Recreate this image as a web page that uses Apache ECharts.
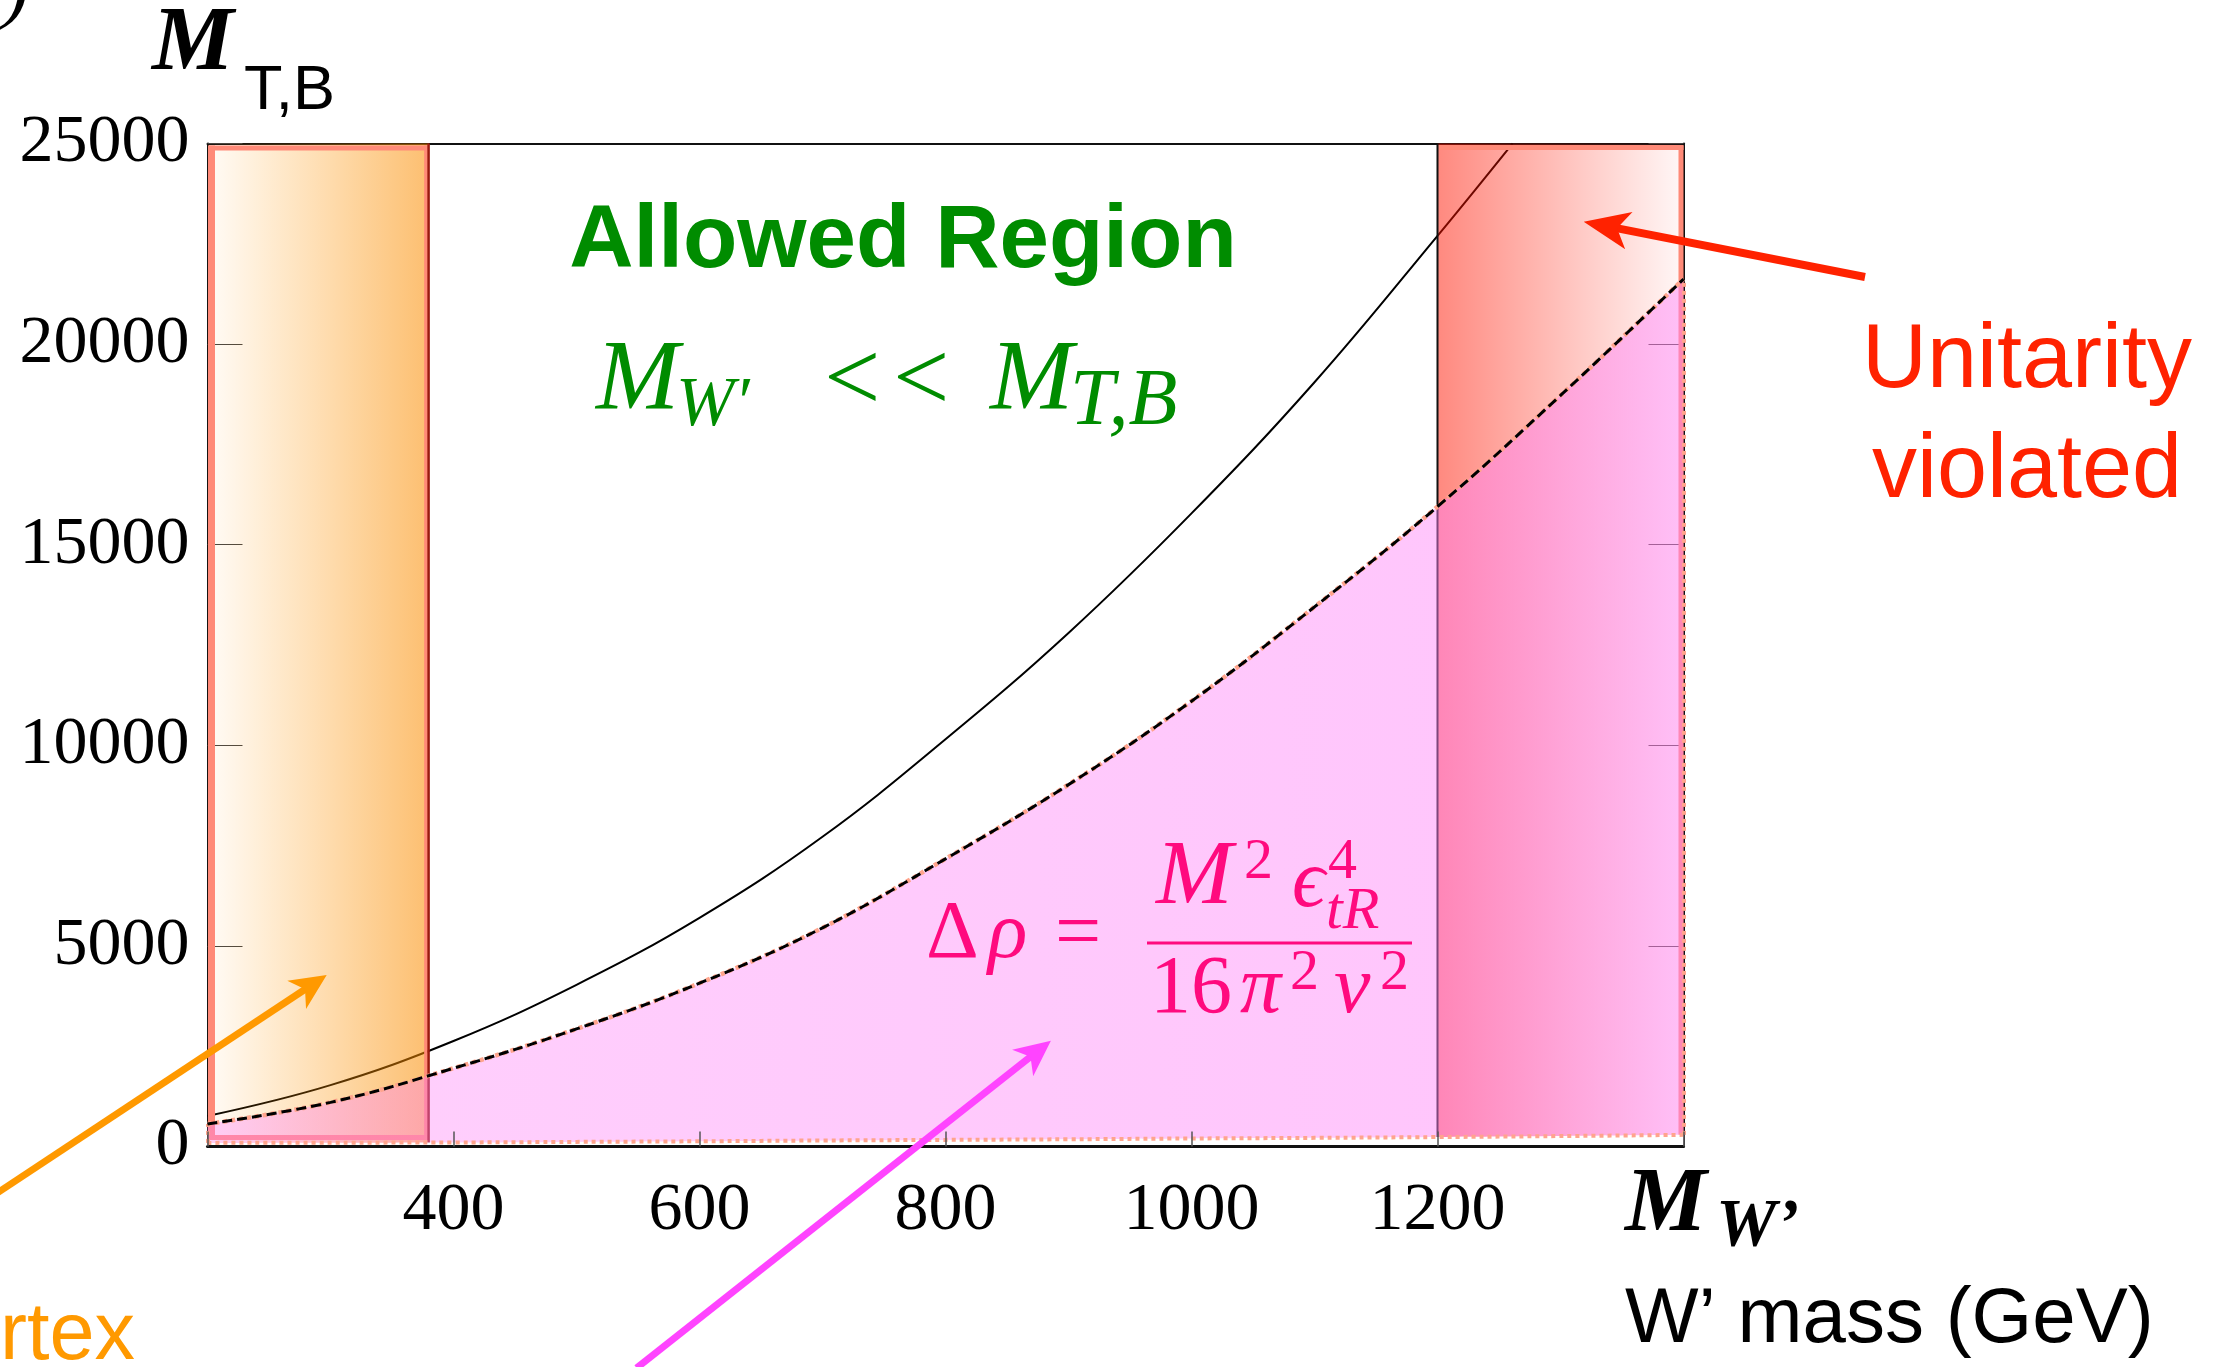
<!DOCTYPE html>
<html>
<head>
<meta charset="utf-8">
<script src="https://cdn.jsdelivr.net/npm/echarts@6/dist/echarts.min.js"></script>
<style>
html,body{margin:0;padding:0;background:#fff;}
#chart{width:2223px;height:1367px;}
</style>
</head>
<body>
<div id="chart"></div>
<script>
// ---------- data ----------
const xMin = 200, xMax = 1400, xStep = 200;
const yMin = 0, yMax = 25000, yStep = 5000;
const xTickLabels = [400, 600, 800, 1000, 1200];

// solid black curve
const solidX = [200, 300, 400, 500, 600, 700, 800, 900, 1000, 1100, 1200, 1261];
const solidY = [760, 1530, 2630, 4030, 5700, 7720, 10150, 12800, 15780, 19050, 22700, 25000];

// dashed curve (upper edge of the Delta-rho region) and lower edge of that region
const curveX  = [200, 300, 400, 500, 600, 700, 800, 900, 1000, 1100, 1200, 1300, 1400];
const dashedY = [560, 1100, 1950, 2930, 4070, 5450, 7170, 9020, 11100, 13450, 15950, 18720, 21620];
const lowerY  = [90, 95, 100, 115, 130, 150, 165, 180, 200, 215, 235, 260, 290];

// excluded bands (W' mass ranges)
const vertexBand = [200, 380];
const unitarityBand = [1200, 1400];

// ---------- build ----------
const chart = echarts.init(document.getElementById('chart'));
const SERIF = '"Liberation Serif","DejaVu Serif",serif';
const SANS = '"Liberation Sans",Arial,sans-serif';
const SALMON = '#ff8a78';
const DOT = '#ffa48c';

const solidData = solidX.map((x, i) => [x, solidY[i]]);
const dashedData = curveX.map((x, i) => [x, dashedY[i]]);
const lowerData = curveX.map((x, i) => [x, lowerY[i]]);
const last = curveX.length - 1;

function line(x1, y1, x2, y2, stroke, w, dash) {
  return {type: 'line', shape: {x1, y1, x2, y2},
    style: {stroke, lineWidth: w, lineDash: dash || null}};
}

function renderBand(params, api) {
  const x0 = api.value(0), x1 = api.value(1), kind = api.value(2);
  const tl = api.coord([x0, yMax]);
  const br = api.coord([x1, yMin]);
  const w = br[0] - tl[0], h = br[1] - tl[1];
  const children = [];
  if (kind === 0) {
    children.push({type: 'rect', shape: {x: tl[0], y: tl[1], width: w, height: h},
      style: {fill: new echarts.graphic.LinearGradient(0, 0, 1, 0, [
        {offset: 0, color: 'rgba(255,150,0,0.03)'},
        {offset: 1, color: 'rgba(250,140,0,0.56)'}])}});
    children.push(line(tl[0] + 4, tl[1] + 2, tl[0] + 4, br[1] - 6.5, SALMON, 7));
    children.push(line(tl[0] + 1, tl[1] + 4.5, br[0] - 1, tl[1] + 4.5, SALMON, 5));
    children.push(line(tl[0] + 1, br[1] - 9, br[0] - 1, br[1] - 9, SALMON, 5));
    children.push(line(br[0] - 3, tl[1] + 2, br[0] - 3, br[1] - 6.5, SALMON, 3.5));
    children.push(line(br[0] - 0.3, tl[1], br[0] - 0.3, br[1], '#9a1a10', 2.5));
  } else {
    children.push({type: 'rect', shape: {x: tl[0], y: tl[1], width: w, height: h},
      style: {fill: new echarts.graphic.LinearGradient(0, 0, 1, 0, [
        {offset: 0, color: 'rgba(255,20,0,0.50)'},
        {offset: 1, color: 'rgba(255,20,0,0.03)'}])}});
    children.push(line(tl[0] + 1, tl[1] + 4, br[0], tl[1] + 4, SALMON, 5));
    children.push(line(br[0] - 2.5, tl[1] + 2, br[0] - 2.5, br[1] - 8, SALMON, 5));
    children.push(line(tl[0], tl[1], tl[0], br[1], '#111', 2));
  }
  return {type: 'group', children};
}

// text helper: x = left (or center), base = baseline y
function txt(x, base, text, size, family, color, extra) {
  extra = extra || {};
  const k = family === SANS ? 0.3465 : 0.3375;
  return {
    type: 'text', x: x, y: base - k * size, z: 100,
    style: {
      text: text, fill: color, fontSize: size, fontFamily: family,
      fontWeight: extra.weight || 'normal', fontStyle: extra.style || 'normal',
      align: extra.align || 'left', verticalAlign: 'middle'
    }
  };
}

function arrow(tail, tip, color, width, L, W, notch) {
  const dx = tip[0] - tail[0], dy = tip[1] - tail[1];
  const len = Math.hypot(dx, dy);
  const ux = dx / len, uy = dy / len, nx = -uy, ny = ux;
  const bx = tip[0] - L * ux, by = tip[1] - L * uy;
  const mx = tip[0] - (L - notch) * ux, my = tip[1] - (L - notch) * uy;
  return [
    {type: 'line', z: 100, shape: {x1: tail[0], y1: tail[1], x2: mx + 2 * ux, y2: my + 2 * uy},
      style: {stroke: color, lineWidth: width}},
    {type: 'polygon', z: 100, shape: {points: [tip, [bx + W * nx, by + W * ny], [mx, my], [bx - W * nx, by - W * ny]]},
      style: {fill: color}}
  ];
}

const GREEN = '#008c00';
const MAG = '#ff0a7e';
const graphics = [
  txt(3, 19, ')', 80, SERIF, '#000', {style: 'italic'}),
  // y axis name
  txt(152, 76, 'M', 92, SERIF, '#000', {weight: 'bold', style: 'italic'}),
  txt(244, 113, 'T,B', 63, SANS, '#000'),
  // x axis name
  txt(1625, 1237, 'M', 92, SERIF, '#000', {weight: 'bold', style: 'italic'}),
  txt(1716, 1250, 'W\u2019', 68, SERIF, '#000', {weight: 'bold', style: 'italic'}),
  txt(1625, 1348, 'W\u2019 mass (GeV)', 78, SANS, '#000'),
  // allowed region
  txt(903, 273, 'Allowed Region', 89, SANS, GREEN, {weight: 'bold', align: 'center'}),
  txt(596, 415, 'M', 100, SERIF, GREEN, {style: 'italic'}),
  txt(676, 430, 'W\u2032', 70, SERIF, GREEN, {style: 'italic'}),
  txt(824, 417, '<', 100, SERIF, GREEN),
  txt(893, 417, '<', 100, SERIF, GREEN),
  txt(990, 415, 'M', 100, SERIF, GREEN, {style: 'italic'}),
  txt(1070, 430, 'T,B', 80, SERIF, GREEN, {style: 'italic'}),
  // Delta rho formula
  txt(926, 963, '\u0394', 82, SERIF, MAG),
  txt(988, 963, '\u03c1', 82, SERIF, MAG, {style: 'italic'}),
  txt(1055, 964, '=', 82, SERIF, MAG),
  {type: 'line', z: 100, shape: {x1: 1147, y1: 943, x2: 1412, y2: 943}, style: {stroke: MAG, lineWidth: 3}},
  txt(1156, 910, 'M', 92, SERIF, MAG, {style: 'italic'}),
  txt(1244, 882, '2', 58, SERIF, MAG),
  txt(1292, 912, '\u03f5', 82, SERIF, MAG, {style: 'italic'}),
  txt(1328, 882, '4', 58, SERIF, MAG),
  txt(1326, 932, 'tR', 60, SERIF, MAG, {style: 'italic'}),
  txt(1150, 1018, '16', 82, SERIF, MAG),
  txt(1240, 1018, '\u03c0', 82, SERIF, MAG, {style: 'italic'}),
  txt(1290, 993, '2', 58, SERIF, MAG),
  txt(1334, 1018, 'v', 82, SERIF, MAG, {style: 'italic'}),
  txt(1380, 993, '2', 58, SERIF, MAG),
  // unitarity
  txt(2027, 393, 'Unitarity', 90, SANS, '#ff2200', {align: 'center'}),
  txt(2027, 503, 'violated', 90, SANS, '#ff2200', {align: 'center'}),
  // vertex (cut off)
  txt(0, 1365, 'rtex', 81, SANS, '#ff9900')
].concat(
  arrow([1865, 277], [1583.7, 221.7], '#ff2200', 8, 46, 19, 12),
  arrow([-30, 1211], [326.7, 975], '#ff9900', 7, 36, 17, 10),
  arrow([636.6, 1368], [1050.9, 1040.7], '#ff44ff', 7, 36, 17, 10)
);

const option = {
  backgroundColor: '#fff',
  animation: false,
  grid: {left: 207.5, top: 143.5, width: 1476, height: 1003, containLabel: false},
  xAxis: [{
    type: 'value', min: xMin, max: xMax, interval: xStep, position: 'bottom', z: 10,
    axisLine: {show: true, onZero: false, lineStyle: {color: '#111', width: 3}},
    axisTick: {show: true, inside: true, length: 15, lineStyle: {color: '#555', width: 1.5}},
    splitLine: {show: false},
    axisLabel: {show: true, margin: 31, fontFamily: SERIF, fontSize: 68, color: '#000',
      formatter: v => xTickLabels.includes(v) ? String(v) : ''}
  }, {
    type: 'value', min: xMin, max: xMax, interval: xStep, position: 'top',
    axisLine: {show: true, onZero: false, lineStyle: {color: '#111', width: 2}},
    axisTick: {show: false}, axisLabel: {show: false}, splitLine: {show: false}
  }],
  yAxis: [{
    type: 'value', min: yMin, max: yMax, interval: yStep, position: 'left',
    axisLine: {show: true, onZero: false, lineStyle: {color: '#111', width: 2}},
    axisTick: {show: true, inside: true, length: 35, lineStyle: {color: '#444', width: 1}},
    splitLine: {show: false},
    axisLabel: {show: true, margin: 18, fontFamily: SERIF, fontSize: 68, color: '#000',
      formatter: v => String(v)}
  }, {
    type: 'value', min: yMin, max: yMax, interval: yStep, position: 'right',
    axisLine: {show: true, onZero: false, lineStyle: {color: '#111', width: 2}},
    axisTick: {show: true, inside: true, length: 35, lineStyle: {color: '#444', width: 1}},
    axisLabel: {show: false}, splitLine: {show: false}
  }],
  series: [
    {
      name: 'solid', type: 'line', data: solidData, smooth: 0.4, symbol: 'none', z: 2,
      lineStyle: {color: '#000', width: 2}, silent: true
    },
    {
      name: 'bands', type: 'custom', z: 3, silent: true,
      data: [[vertexBand[0], vertexBand[1], 0], [unitarityBand[0], unitarityBand[1], 1]],
      renderItem: renderBand
    },
    {
      name: 'rhoRegion', type: 'line', data: dashedData, smooth: 0.4, symbol: 'none', z: 4,
      lineStyle: {color: DOT, width: 4.5, type: [4, 4]},
      areaStyle: {opacity: 1, origin: 'start', color: new echarts.graphic.LinearGradient(0, 0, 1, 0, [
        {offset: 0, color: 'rgba(255,131,248,0.38)'},
        {offset: 1, color: 'rgba(255,131,248,0.48)'}])},
      silent: true
    },
    {
      name: 'lowerEdge', type: 'line', data: lowerData, smooth: 0.4, symbol: 'none', z: 4.5,
      lineStyle: {color: DOT, width: 4, type: [4, 4]},
      areaStyle: {opacity: 1, origin: 'start', color: '#ffffff'},
      silent: true
    },
    {
      name: 'dashed', type: 'line', data: dashedData, smooth: 0.4, symbol: 'none', z: 5,
      lineStyle: {color: '#000', width: 3, type: [10, 5]}, silent: true,
      markLine: {
        silent: true, symbol: 'none', label: {show: false},
        lineStyle: {color: DOT, width: 4, type: [4, 4]},
        data: [
          [{coord: [curveX[0], lowerY[0]]}, {coord: [curveX[0], dashedY[0]]}],
          [{coord: [curveX[last], lowerY[last]]}, {coord: [curveX[last], dashedY[last]]}]
        ]
      }
    }
  ],
  graphic: graphics
};
chart.setOption(option);
</script>
</body>
</html>
